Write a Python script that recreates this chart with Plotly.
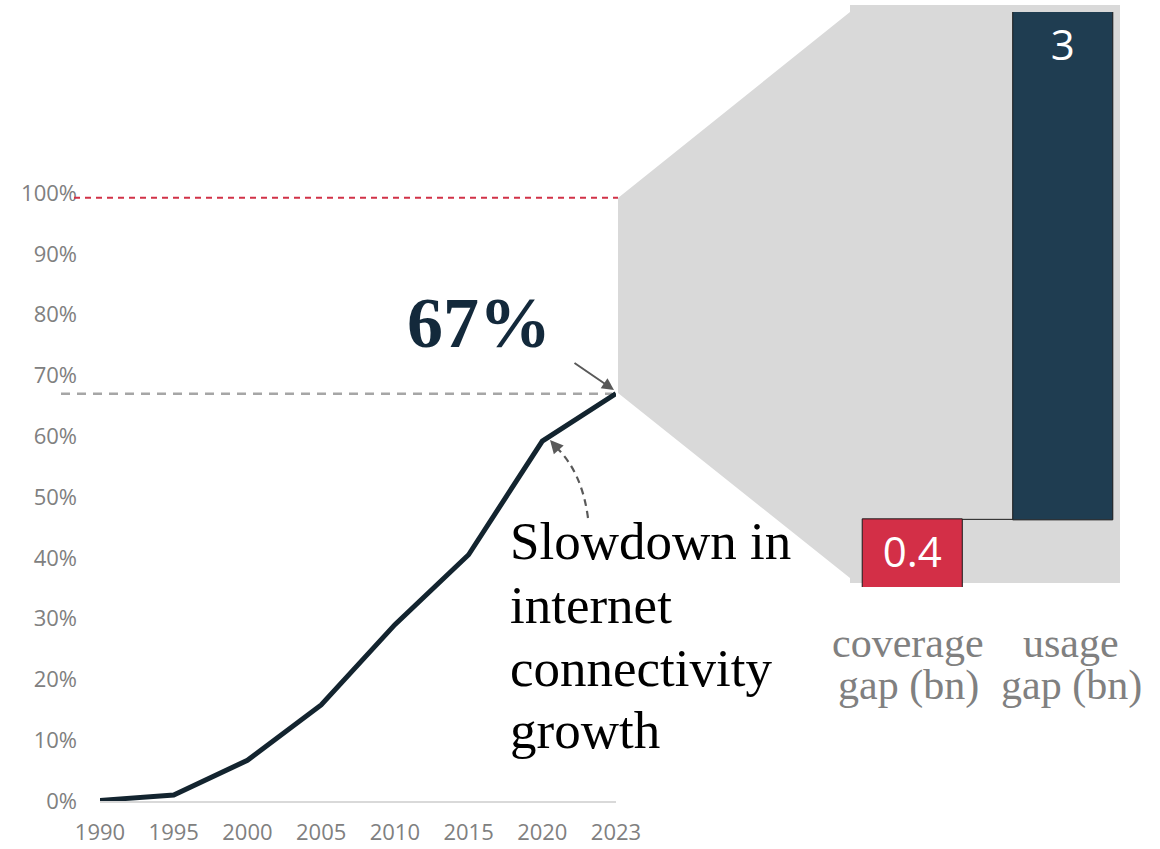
import plotly.graph_objects as go

# ---------------- data ----------------
years = ["1990", "1995", "2000", "2005", "2010", "2015", "2020", "2023"]
internet_share = [0.001, 0.01, 0.067, 0.158, 0.29, 0.405, 0.592, 0.67]
y_ticks = [0, 0.1, 0.2, 0.3, 0.4, 0.5, 0.6, 0.7, 0.8, 0.9, 1.0]
target_level = 0.992
current_level = 0.67

gap_categories = ["coverage gap (bn)", "usage gap (bn)"]
gap_values = [0.4, 3]
gap_labels = ["0.4", "3"]
gap_label_lines = [["coverage", "gap (bn)"], ["usage", "gap (bn)"]]

W, H = 1160, 849


def px(x):
    return x / W


def py(y):
    return 1 - y / H


NAVY = "#13242f"
BAR_NAVY = "#1f3d51"
RED = "#d32f47"
GREY_TXT = "#808080"

fig = go.Figure()

# line chart
fig.add_trace(go.Scatter(
    x=years, y=internet_share, mode="lines",
    line=dict(color=NAVY, width=5, shape="linear"),
    xaxis="x", yaxis="y", cliponaxis=False, hoverinfo="skip", showlegend=False,
))

# waterfall bars (coverage gap, then usage gap stacked on top)
fig.add_trace(go.Waterfall(
    x=gap_categories, y=gap_values, measure=["absolute", "relative"],
    xaxis="x2", yaxis="y2",
    totals=dict(marker=dict(color=RED, line=dict(color="#1a1a1a", width=1))),
    increasing=dict(marker=dict(color=BAR_NAVY, line=dict(color="#1a1a1a", width=1))),
    connector=dict(line=dict(color="#1a1a1a", width=1), mode="between"),
    text=gap_labels, texttemplate="%{text}", textposition="inside",
    insidetextanchor="end",
    textfont=dict(family="Open Sans", size=42, color="white"),
    width=0.665, showlegend=False, hoverinfo="skip",
))

shapes = []
# grey zoom polygon (decorative, behind everything)
poly = [(618, 198), (850, 12), (850, 5), (1120, 5), (1120, 583), (850, 583), (850, 578), (618, 393)]
path = "M " + " L ".join(f"{px(a):.5f},{py(b):.5f}" for a, b in poly) + " Z"
shapes.append(dict(type="path", path=path, xref="paper", yref="paper",
                   fillcolor="#d9d9d9", line=dict(width=0), layer="below"))
# red dashed 100% line
shapes.append(dict(type="line", xref="paper", yref="y", x0=px(74), x1=px(618),
                   y0=target_level, y1=target_level,
                   line=dict(color="#d13247", width=2, dash="6px,5px"), layer="above"))
# grey dashed current level line
shapes.append(dict(type="line", xref="paper", yref="y", x0=px(61), x1=px(612),
                   y0=current_level, y1=current_level,
                   line=dict(color="#a6a6a6", width=2.5, dash="9px,7px"), layer="below"))
# dashed curved arrow body
c0, c1, c2 = (588, 518), (582, 472), (556, 447)
shapes.append(dict(type="path", xref="paper", yref="paper",
                   path=f"M {px(c0[0]):.5f},{py(c0[1]):.5f} Q {px(c1[0]):.5f},{py(c1[1]):.5f} {px(c2[0]):.5f},{py(c2[1]):.5f}",
                   line=dict(color="#595959", width=2.2, dash="7px,5px")))

annotations = []
# 67% label
annotations.append(dict(text="<b>67%</b>", x=px(479), y=py(323), xref="paper", yref="paper",
                        showarrow=False, xanchor="center", yanchor="middle",
                        font=dict(family="Liberation Serif", size=72, color="#13293b")))
# solid arrow to the end point
annotations.append(dict(text="", x=px(614), y=py(390), xref="paper", yref="paper",
                        ax=-41, ay=-28, showarrow=True, arrowhead=2, arrowsize=1.2,
                        arrowwidth=2, arrowcolor="#595959"))
# arrowhead of dashed curve
annotations.append(dict(text="", x=px(550), y=py(440), xref="paper", yref="paper",
                        ax=8, ay=9, showarrow=True, arrowhead=2, arrowsize=1.2,
                        arrowwidth=2.2, arrowcolor="#595959"))
# slowdown text
slow_fs = 53
slow_lines = ["Slowdown in", "internet", "connectivity", "growth"]
baselines = [559, 623, 686, 748]
for t, b in zip(slow_lines, baselines):
    annotations.append(dict(text=t, x=px(508), y=py(b - 0.3375 * slow_fs), xref="paper", yref="paper",
                            showarrow=False, xanchor="left", yanchor="middle",
                            font=dict(family="Liberation Serif", size=slow_fs, color="black")))
# category labels under the bars
lab_fs = 42
label_x = [908, 1071]
for cx, lines in zip(label_x, gap_label_lines):
    for t, b in zip(lines, [657, 700]):
        annotations.append(dict(text=t, x=px(cx), y=py(b - 0.3375 * lab_fs), xref="paper", yref="paper",
                                showarrow=False, xanchor="center", yanchor="middle",
                                font=dict(family="Liberation Serif", size=lab_fs, color=GREY_TXT)))

fig.update_layout(
    width=W, height=H, margin=dict(l=0, r=0, t=0, b=0, pad=0, autoexpand=False),
    paper_bgcolor="white", plot_bgcolor="rgba(0,0,0,0)",
    xaxis=dict(domain=[px(100), px(616)], type="category", range=[0, 7], automargin=False,
               showgrid=False, zeroline=False, showline=True, linecolor="#d9d9d9", linewidth=1.5,
               ticks="", ticklabelstandoff=11,
               tickfont=dict(family="Open Sans", size=22, color=GREY_TXT)),
    yaxis=dict(domain=[py(801), py(193)], range=[0, 1], tickvals=y_ticks, tickformat=".0%",
               automargin=False,
               showgrid=False, zeroline=False, showline=False, ticks="", ticklabelstandoff=22,
               tickfont=dict(family="Open Sans", size=22, color=GREY_TXT)),
    xaxis2=dict(domain=[px(837), px(1138)], range=[-0.5, 1.5], type="category", automargin=False,
                showticklabels=False, showgrid=False, zeroline=False, showline=False, ticks=""),
    yaxis2=dict(domain=[py(587), py(12)], range=[0, 3.4], anchor="x2", automargin=False,
                showticklabels=False, showgrid=False, zeroline=False, showline=False, ticks=""),
    shapes=shapes, annotations=annotations, showlegend=False,
)

fig.write_html("out.html", config={"displayModeBar": False},
               post_script="document.body.style.margin='0px';document.body.style.overflow='hidden';")
